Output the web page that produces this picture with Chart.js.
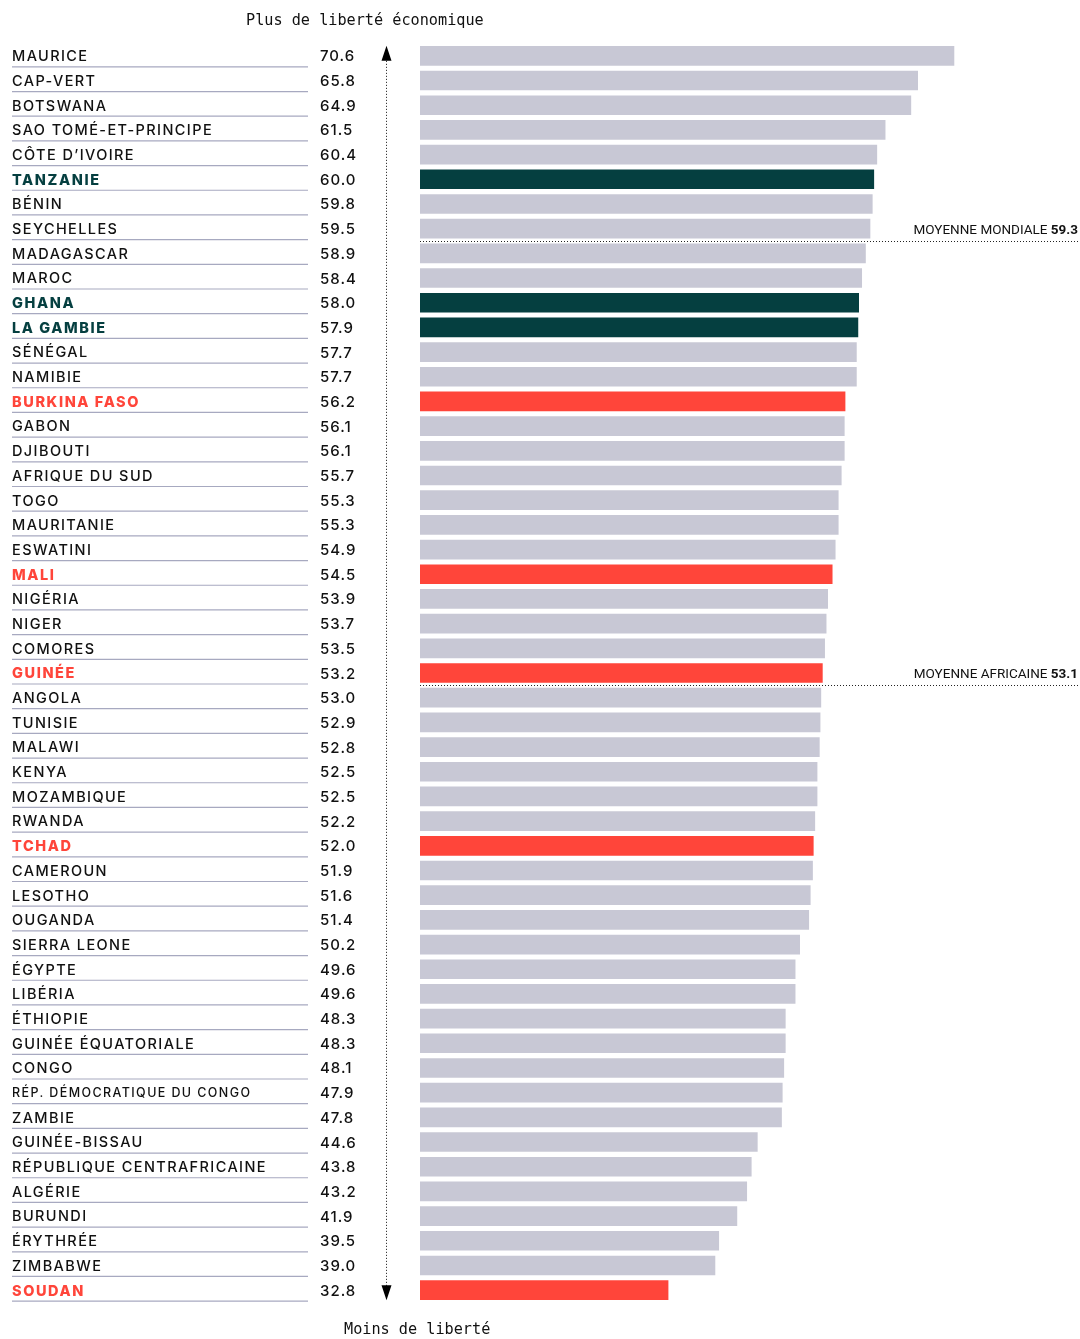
<!DOCTYPE html>
<html>
<head>
<meta charset="utf-8">
<script src="https://cdn.jsdelivr.net/npm/chart.js@4.4.1/dist/chart.umd.min.js"></script>
<style>
  html, body { margin: 0; padding: 0; background: #fff; }
  #freedom { display: block; }
</style>
</head>
<body>
<canvas id="freedom" width="1080" height="1339"></canvas>
<script>
// countries, top to bottom
const countries = [
    'MAURICE', 'CAP-VERT', 'BOTSWANA', 'SAO TOMÉ-ET-PRINCIPE', 'CÔTE D\u2019IVOIRE',
    'TANZANIE', 'BÉNIN', 'SEYCHELLES', 'MADAGASCAR', 'MAROC',
    'GHANA', 'LA GAMBIE', 'SÉNÉGAL', 'NAMIBIE', 'BURKINA FASO',
    'GABON', 'DJIBOUTI', 'AFRIQUE DU SUD', 'TOGO', 'MAURITANIE',
    'ESWATINI', 'MALI', 'NIGÉRIA', 'NIGER', 'COMORES',
    'GUINÉE', 'ANGOLA', 'TUNISIE', 'MALAWI', 'KENYA',
    'MOZAMBIQUE', 'RWANDA', 'TCHAD', 'CAMEROUN', 'LESOTHO',
    'OUGANDA', 'SIERRA LEONE', 'ÉGYPTE', 'LIBÉRIA', 'ÉTHIOPIE',
    'GUINÉE ÉQUATORIALE', 'CONGO', 'RÉP. DÉMOCRATIQUE DU CONGO', 'ZAMBIE', 'GUINÉE-BISSAU',
    'RÉPUBLIQUE CENTRAFRICAINE', 'ALGÉRIE', 'BURUNDI', 'ÉRYTHRÉE', 'ZIMBABWE',
    'SOUDAN'
];

const scores = [
    70.6, 65.8, 64.9, 61.5, 60.4,
    60.0, 59.8, 59.5, 58.9, 58.4,
    58.0, 57.9, 57.7, 57.7, 56.2,
    56.1, 56.1, 55.7, 55.3, 55.3,
    54.9, 54.5, 53.9, 53.7, 53.5,
    53.2, 53.0, 52.9, 52.8, 52.5,
    52.5, 52.2, 52.0, 51.9, 51.6,
    51.4, 50.2, 49.6, 49.6, 48.3,
    48.3, 48.1, 47.9, 47.8, 44.6,
    43.8, 43.2, 41.9, 39.5, 39.0,
    32.8
];

const tealCountries = ['TANZANIE', 'GHANA', 'LA GAMBIE'];
const redCountries = ['BURKINA FASO', 'MALI', 'GUINÉE', 'TCHAD', 'SOUDAN'];
const smallLabels = ['RÉP. DÉMOCRATIQUE DU CONGO'];

const averageNames = ['MOYENNE MONDIALE', 'MOYENNE AFRICAINE'];
const averageValues = [59.3, 53.1];

const GREY = '#c8c8d5';
const TEAL = '#053f40';
const RED = '#ff453a';
const LINE = '#a7a9c0';

function colorFor(name) {
    if (tealCountries.includes(name)) return TEAL;
    if (redCountries.includes(name)) return RED;
    return null;
}

let barColors = countries.map(c => colorFor(c) || GREY);

// where a value would sit between rows (for the average lines)
function rowGapFor(value) {
    for (let i = 0; i < scores.length - 1; i++) {
        if (scores[i] >= value && scores[i + 1] < value) return i + 0.5;
    }
    return scores.length - 0.5;
}

const sidePlugin = {
    id: 'sidePlugin',
    afterDraw(chart) {
        const ctx = chart.ctx;
        const y = chart.scales.y;
        const area = chart.chartArea;
        ctx.save();

        // header / footer
        ctx.fillStyle = '#111';
        ctx.font = '15.2px "DejaVu Sans Mono"';
        ctx.textBaseline = 'middle';
        ctx.textAlign = 'left';
        ctx.fillText('Plus de liberté économique', 246, 21);
        ctx.fillText('Moins de liberté', 344, 1330);

        // country names, values and underlines
        countries.forEach((name, i) => {
            const cy = y.getPixelForValue(i);
            const col = colorFor(name);
            ctx.letterSpacing = '1.4px';
            if (col) {
                ctx.font = '800 14.5px Inter';
                ctx.fillStyle = col;
                ctx.letterSpacing = '1.6px';
            } else if (smallLabels.includes(name)) {
                ctx.font = '500 12.5px Inter';
                ctx.fillStyle = '#111';
            } else {
                ctx.font = '500 14.5px Inter';
                ctx.fillStyle = '#111';
            }
            ctx.textAlign = 'left';
            ctx.fillText(name, 12, cy + 1);

            ctx.letterSpacing = '1px';
            ctx.font = '500 15px Inter';
            ctx.fillStyle = '#111';
            ctx.fillText(scores[i].toFixed(1), 320, cy + 1);

            ctx.strokeStyle = LINE;
            ctx.lineWidth = 1.2;
            ctx.beginPath();
            ctx.moveTo(12, cy + 11);
            ctx.lineTo(308, cy + 11);
            ctx.stroke();
        });
        ctx.letterSpacing = '0px';

        // dotted axis with arrows
        const ax = 386.5;
        const yTop = y.getPixelForValue(0);
        const yBot = y.getPixelForValue(countries.length - 1);
        ctx.strokeStyle = '#111';
        ctx.lineWidth = 1;
        ctx.setLineDash([1, 2]);
        ctx.beginPath();
        ctx.moveTo(ax, yTop + 2);
        ctx.lineTo(ax, yBot - 2);
        ctx.stroke();
        ctx.setLineDash([]);
        ctx.fillStyle = '#000';
        ctx.beginPath();
        ctx.moveTo(ax, yTop - 10);
        ctx.lineTo(ax - 5, yTop + 5);
        ctx.lineTo(ax + 5, yTop + 5);
        ctx.closePath();
        ctx.fill();
        ctx.beginPath();
        ctx.moveTo(ax, yBot + 10);
        ctx.lineTo(ax - 5, yBot - 5);
        ctx.lineTo(ax + 5, yBot - 5);
        ctx.closePath();
        ctx.fill();

        // average lines
        averageValues.forEach((v, k) => {
            const ly = Math.round(y.getPixelForValue(rowGapFor(v))) + 0.5;
            ctx.strokeStyle = '#222';
            ctx.lineWidth = 1;
            ctx.setLineDash([1, 2]);
            ctx.beginPath();
            ctx.moveTo(area.left, ly);
            ctx.lineTo(area.right, ly);
            ctx.stroke();
            ctx.setLineDash([]);

            ctx.textAlign = 'right';
            ctx.textBaseline = 'alphabetic';
            ctx.fillStyle = '#111';
            ctx.font = 'bold 13.5px "Roboto"';
            const num = v.toFixed(1);
            ctx.fillText(num, area.right, ly - 8);
            const w = ctx.measureText(num).width;
            ctx.font = '13.5px "Roboto"';
            ctx.fillText(averageNames[k] + ' ', area.right - w, ly - 8);
            ctx.textBaseline = 'middle';
        });

        ctx.restore();
    }
};

let ctx = document.getElementById('freedom').getContext('2d');

let myChart = new Chart(ctx, {
    type: 'bar',
    data: {
        labels: countries,
        datasets: [{
            data: scores,
            backgroundColor: barColors,
            borderWidth: 0,
            barThickness: 19
        }]
    },
    options: {
        indexAxis: 'y',
        responsive: false,
        animation: false,
        layout: {
            padding: { left: 420, right: 2, top: 43.5, bottom: 36.5 }
        },
        plugins: {
            legend: { display: false },
            tooltip: { enabled: false }
        },
        scales: {
            x: { display: false, min: 0, max: 87 },
            y: { display: false }
        }
    },
    plugins: [sidePlugin]
});
</script>
</body>
</html>
